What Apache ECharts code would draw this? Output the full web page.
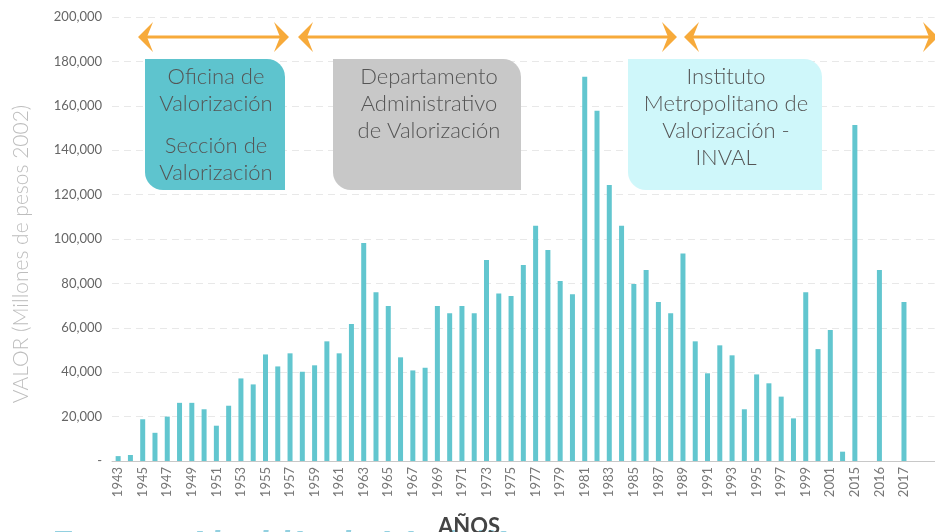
<!DOCTYPE html>
<html>
<head>
<meta charset="utf-8">
<script src="https://cdn.jsdelivr.net/npm/echarts@6/dist/echarts.min.js"></script>
<style>html,body{margin:0;padding:0;background:#fff;}#c{width:935px;height:532px;}</style>
</head>
<body>
<div id="c"></div>
<script>
var categories = ['1943','1944','1945','1946','1947','1948','1949','1950','1951','1952','1953','1954','1955','1956','1957','1958','1959','1960','1961','1962','1963','1964','1965','1966','1967','1968','1969','1970','1971','1972','1973','1974','1975','1976','1977','1978','1979','1980','1981','1982','1983','1984','1985','1986','1987','1988','1989','1990','1991','1992','1993','1994','1995','1996','1997','1998','1999','2000','2001','2002','2015',' ','2016','  ','2017','   ','    '];
var values = [2200,2700,18800,12700,20000,26200,26200,23300,15900,24900,37200,34500,48000,42600,48500,40200,43100,53900,48500,61700,98200,76000,69800,46700,40800,42000,69800,66500,69800,66500,90500,75500,74300,88300,106000,95000,81100,75100,173100,157800,124300,106000,79700,86000,71600,66500,93500,53900,39500,52100,47600,23300,39000,35000,29000,19200,76000,50400,59000,4200,151300,null,86000,null,71600,null,null];
var yTicks = [0,20000,40000,60000,80000,100000,120000,140000,160000,180000,200000];

var FONT = 'Lato, "Open Sans", sans-serif';
var chart = echarts.init(document.getElementById('c'));

function arrowHead(tipX, y, dir, color) {
  return {
    type: 'polygon', z: 20,
    shape: { points: [[tipX, y], [tipX - dir * 15, y - 15], [tipX - dir * 9, y], [tipX - dir * 15, y + 15]] },
    style: { fill: color }
  };
}
function arrow(x1, x2, y) {
  var col = '#F7AA3A';
  return [
    { type: 'line', z: 20, shape: { x1: x1 + 6, y1: y, x2: x2 - 6, y2: y }, style: { stroke: col, lineWidth: 3 } },
    arrowHead(x1, y, -1, col),
    arrowHead(x2, y, 1, col)
  ];
}
function box(x, y, w, h, fill) {
  return { type: 'rect', z: 20, shape: { x: x, y: y, width: w, height: h, r: [0, 18, 0, 18] }, style: { fill: fill } };
}
function txt(x, y, s) {
  return {
    type: 'text', x: x, y: y, z: 21,
    style: { text: s, fill: '#555', font: '300 22px ' + FONT, align: 'center', verticalAlign: 'middle' }
  };
}

var graphics = [];
graphics = graphics.concat(arrow(138, 289, 37), arrow(298, 677, 37), arrow(684, 938, 37));
graphics.push(box(145, 59, 140, 131, '#5EC4CE'));
graphics.push(box(333, 59, 188, 131, '#C8C8C8'));
graphics.push(box(628, 59, 194, 131, '#CFF7FA'));
graphics.push(txt(216, 77, 'Oficina de'));
graphics.push(txt(216, 104, 'Valorización'));
graphics.push(txt(216, 146, 'Sección de'));
graphics.push(txt(216, 173, 'Valorización'));
graphics.push(txt(429, 77, 'Departamento'));
graphics.push(txt(429, 104, 'Administrativo'));
graphics.push(txt(429, 131, 'de Valorización'));
graphics.push(txt(726, 77, 'Instituto'));
graphics.push(txt(726, 104, 'Metropolitano de'));
graphics.push(txt(726, 131, 'Valorización -'));
graphics.push(txt(726, 158, 'INVAL'));
graphics.push({ type: 'text', x: 21, y: 254, rotation: Math.PI / 2, z: 21,
  style: { text: 'VALOR (Millones de pesos 2002)', fill: '#BDBDBD', font: '300 21px ' + FONT, align: 'center', verticalAlign: 'middle' } });
graphics.push({ type: 'text', x: 50, y: 527, z: 21,
  style: { text: 'Fuente: Alcaldía de Medellín', fill: '#92D0E0', font: 'italic bold 40px ' + FONT, align: 'left', verticalAlign: 'top' } });
graphics.push({ type: 'text', x: 469, y: 527, z: 22,
  style: { text: 'AÑOS', fill: '#444', font: 'bold 22px ' + FONT, align: 'center', verticalAlign: 'middle' } });

chart.setOption({
  animation: false,
  backgroundColor: '#fff',
  grid: { left: 112, top: 17, width: 827, height: 444, containLabel: false },
  xAxis: {
    type: 'category',
    data: categories,
    axisLine: { show: true, lineStyle: { color: '#C8C8C8', width: 1 } },
    axisTick: { show: false },
    axisLabel: { interval: 1, rotate: 90, color: '#777', fontSize: 13, fontFamily: FONT, margin: 6 }
  },
  yAxis: {
    type: 'value',
    min: yTicks[0], max: yTicks[yTicks.length - 1], interval: yTicks[1] - yTicks[0],
    axisLine: { show: false },
    axisTick: { show: false },
    splitLine: { show: true, lineStyle: { color: '#E8E8E8', type: [7, 5], width: 1 } },
    axisLabel: {
      color: '#666', fontSize: 13, fontFamily: FONT, margin: 10,
      formatter: function (v) { return v === 0 ? '-' : v.toLocaleString('en-US'); }
    }
  },
  series: [{
    type: 'bar',
    data: values,
    barWidth: 5,
    itemStyle: { color: '#62C6CF' }
  }],
  graphic: graphics
});
</script>
</body>
</html>
